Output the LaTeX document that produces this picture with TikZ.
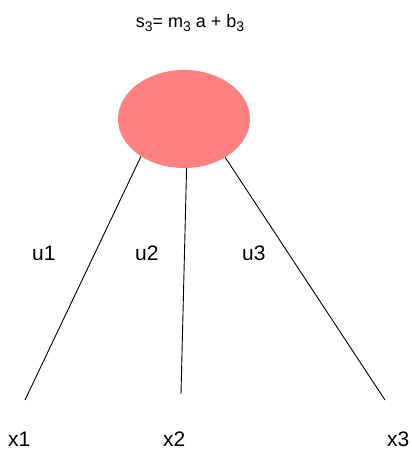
\documentclass[tikz,border=0pt]{standalone}
\usepackage{fontspec}
\setmainfont{Liberation Sans}
\usepackage{tikz}
\usetikzlibrary{positioning,shapes.geometric}
\definecolor{nodered}{RGB}{255,128,128}
\newcommand{\lowsub}[1]{\raisebox{-0.45ex}{\fontsize{14}{16}\selectfont #1}}

\begin{document}
\begin{tikzpicture}
  [x=1pt, y=-1pt,
   unit/.style={ellipse, fill=nodered, minimum width=132pt, minimum height=98pt, inner sep=0pt},
   lbl/.style={inner sep=0pt, font=\fontsize{21}{24}\selectfont},
   wire/.style={line width=0.9pt}]
  \useasboundingbox (0,0) rectangle (412,450);
  \node[unit] (s3) at (184, 119) {};
  \node[lbl, font=\fontsize{18}{20}\selectfont, anchor=base] (eq) at (190, 27)
    {s\lowsub{3}= m\lowsub{3} a + b\lowsub{3}};
  % inputs
  \node[lbl, anchor=base west] (x1) at (8, 446) {x1};
  \node[lbl, anchor=base west] (x2) at (163, 446) {x2};
  \node[lbl, anchor=base west] (x3) at (387, 446) {x3};
  % weights
  \node[lbl, anchor=base west] (u1) at (32, 260) {u1};
  \node[lbl, anchor=base west] (u2) at (135, 260) {u2};
  \node[lbl, anchor=base west] (u3) at (242, 260) {u3};
  % free ends of the connections
  \coordinate (e1) at (25, 400);
  \coordinate (e2) at (181, 394);
  \coordinate (e3) at (385, 400);
  \draw[wire] (s3.221) -- (e1) (s3.273) -- (e2) (s3.317) -- (e3);
\end{tikzpicture}
\end{document}
